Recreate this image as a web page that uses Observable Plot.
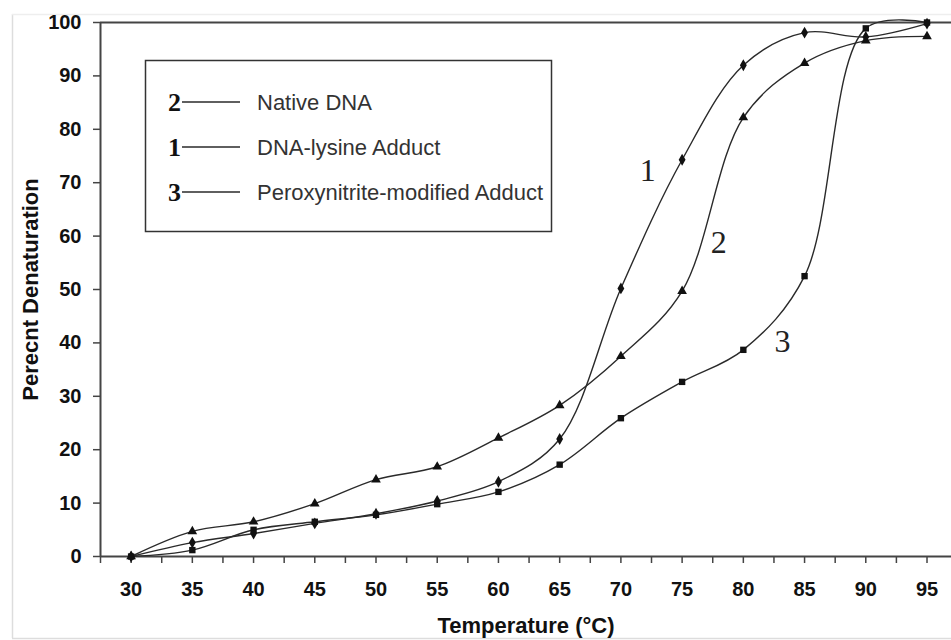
<!DOCTYPE html>
<html>
<head>
<meta charset="utf-8">
<script src="https://cdn.jsdelivr.net/npm/d3@7"></script>
<script src="https://cdn.jsdelivr.net/npm/@observablehq/plot@0.6"></script>
<style>
  html, body { margin: 0; padding: 0; background: #fff; }
  #chart { width: 951px; height: 640px; }
</style>
</head>
<body>
<div id="chart"></div>
<script>
// ---- data ----
const temps   = [30, 35, 40, 45, 50, 55, 60, 65, 70, 75, 80, 85, 90, 95];
const native  = [0, 4.7, 6.5, 9.9, 14.4, 16.8, 22.2, 28.3, 37.5, 49.7, 82.2, 92.4, 96.6, 97.4];
const lysine  = [0, 2.6, 4.3, 6.2, 8.0, 10.4, 14.0, 22.0, 50.2, 74.3, 92.0, 98.1, 97.3, 99.8];
const perox   = [0, 1.2, 5.0, 6.5, 7.8, 9.8, 12.1, 17.2, 25.9, 32.7, 38.7, 52.5, 98.9, 100];

const seriesNames   = ["Native DNA", "DNA-lysine Adduct", "Peroxynitrite-modified Adduct"];
const seriesNumbers = ["2", "1", "3"];
const seriesSymbols = ["triangle", "diamond", "square"];

const xTicks = d3.range(27.5, 97.1, 2.5);
const xLabels = [30, 35, 40, 45, 50, 55, 60, 65, 70, 75, 80, 85, 90, 95];
const yTicks = [0, 10, 20, 30, 40, 50, 60, 70, 80, 90, 100];

const curveLabels = ["1", "2", "3"];
const curveLabelX = [72.2, 78.0, 83.2];
const curveLabelY = [72.3, 58.8, 40.3];

// ---- build table ----
const allValues = [native, lysine, perox];
const rows = [];
allValues.forEach((vals, s) => {
  vals.forEach((v, i) => rows.push({series: seriesNames[s], symbol: seriesSymbols[s], t: temps[i], v}));
});
const labelRows = curveLabels.map((txt, i) => ({txt, x: curveLabelX[i], y: curveLabelY[i]}));

const ink = "#2a2a2a";

const chart = Plot.plot({
  width: 951,
  height: 640,
  marginLeft: 100,
  marginRight: 0,
  marginTop: 22,
  marginBottom: 84,
  style: {fontFamily: "'Liberation Sans', Arial, sans-serif", fontSize: "20px", fontWeight: "bold", color: "#111", background: "#fff", overflow: "visible"},
  x: {domain: [27.5, 97]},
  y: {domain: [0, 100]},
  marks: [
    Plot.axisY({ticks: yTicks, tickSize: 7, tickPadding: 12, stroke: "#444", strokeWidth: 1.5,
      label: "Perecnt Denaturation", labelAnchor: "center", labelArrow: "none", labelOffset: 78}),
    Plot.axisX({ticks: xTicks, tickSize: 7, tickPadding: 18, stroke: "#444", strokeWidth: 1.5,
      tickFormat: d => xLabels.includes(d) ? String(d) : "",
      label: "Temperature (°C)", labelAnchor: "center", labelArrow: "none", labelOffset: 76}),
    Plot.ruleY([0], {stroke: "#444", strokeWidth: 2}),
    Plot.ruleY([100], {stroke: "#444", strokeWidth: 2}),
    Plot.ruleX([27.5], {stroke: "#444", strokeWidth: 2}),
    Plot.line(rows, {x: "t", y: "v", z: "series", curve: "catmull-rom", stroke: ink, strokeWidth: 1.4}),
    Plot.dot(rows, {x: "t", y: "v", symbol: "symbol", fill: "#111", stroke: "none", r: 3.6}),
    Plot.text(labelRows, {x: "x", y: "y", text: "txt", fontFamily: "'Liberation Serif', 'Times New Roman', serif",
      fontSize: 32, fontWeight: "normal", fill: "#222"})
  ]
});

document.getElementById("chart").appendChild(chart);

const svg = d3.select(chart);
svg.selectAll('[aria-label="x-axis label"] text, [aria-label="y-axis label"] text')
  .style("font-size", "22px");

// outer light frame
const frame = svg.insert("g", ":first-child");
frame.append("line").attr("x1", 12.5).attr("x2", 12.5).attr("y1", 14).attr("y2", 638).attr("stroke", "#ddd").attr("stroke-width", 1.5);
frame.append("line").attr("x1", 12).attr("x2", 951).attr("y1", 14.5).attr("y2", 14.5).attr("stroke", "#eee").attr("stroke-width", 1.5);
frame.append("line").attr("x1", 12).attr("x2", 951).attr("y1", 638.5).attr("y2", 638.5).attr("stroke", "#ddd").attr("stroke-width", 1.5);

// legend box
const lg = svg.append("g").attr("text-anchor", "start");
lg.append("rect").attr("x", 145.5).attr("y", 60.5).attr("width", 406).attr("height", 171)
  .attr("fill", "#fff").attr("stroke", "#333").attr("stroke-width", 1.5);
const rowY = [102, 147, 192];
seriesNames.forEach((name, i) => {
  lg.append("text").attr("x", 168).attr("y", rowY[i]).attr("dy", "0.35em").attr("text-anchor", "start")
    .style("font-family", "'Liberation Serif', 'Times New Roman', serif").style("font-size", "26px")
    .style("font-weight", "bold").attr("fill", "#111").text(seriesNumbers[i]);
  lg.append("line").attr("x1", 182).attr("x2", 240).attr("y1", rowY[i]).attr("y2", rowY[i])
    .attr("stroke", ink).attr("stroke-width", 1.4);
  lg.append("text").attr("x", 257).attr("y", rowY[i]).attr("dy", "0.35em").attr("text-anchor", "start")
    .style("font-family", "'Liberation Sans', Arial, sans-serif").style("font-size", "22px")
    .style("font-weight", "normal").attr("fill", "#333").text(name);
});
</script>
</body>
</html>
